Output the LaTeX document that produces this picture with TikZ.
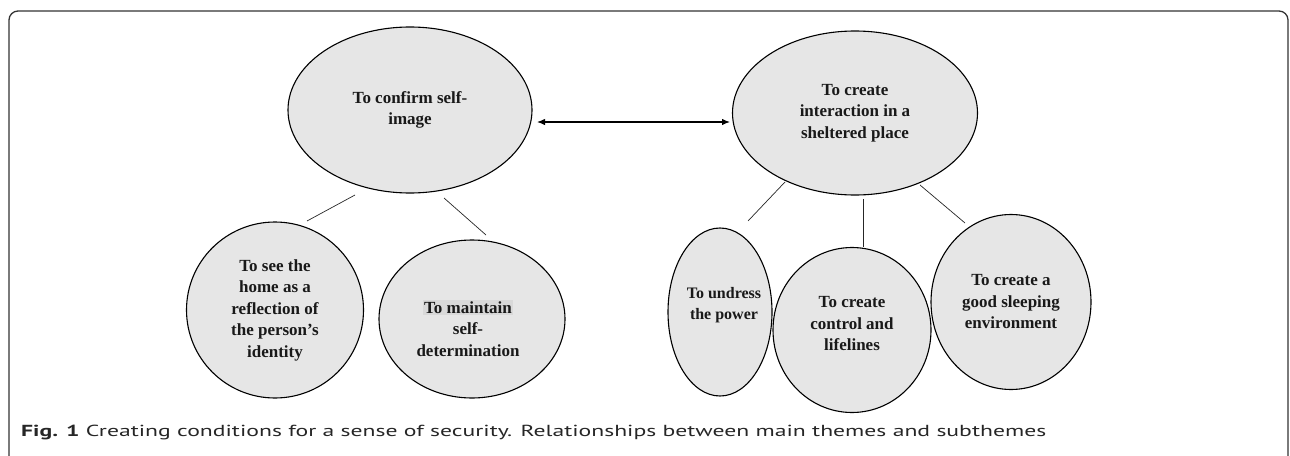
\documentclass[tikz,border=0pt]{standalone}
\usepackage{fontspec}
\usepackage{graphicx}
\setmainfont{Liberation Serif}
\newfontfamily\capfont{PT Sans}
\usetikzlibrary{shapes.geometric,calc,arrows.meta}
\definecolor{bubblefill}{HTML}{E6E6E6}
\definecolor{hlgray}{HTML}{D9D9D9}
\begin{document}
\begin{tikzpicture}[x=1pt,y=-1pt,
  bubble/.style={ellipse,draw=black,line width=1.1pt,fill=bubblefill,inner sep=0pt},
  lbl/.style={font=\fontsize{17}{21.5}\selectfont\bfseries,align=center,inner sep=0pt,text=black!90},
  link/.style={line width=0.7pt,draw=black!85}]
\useasboundingbox (0,0) rectangle (1290,455);
\begin{scope}
\clip (0,0) rectangle (1290,455);
\draw[line width=1.3pt,draw=black!80,rounded corners=9pt] (9,11) rectangle (1288,480);
\end{scope}
% main themes
\node[bubble,minimum width=244pt,minimum height=166pt] (e1) at (410,110) {};
\node[lbl] (t1) at (e1.center) {To confirm self-\\image};
\node[bubble,minimum width=245pt,minimum height=164pt] (e2) at (855,113) {};
\node[lbl] (t2) at (e2.center) {To create\\interaction in a\\sheltered place};
% subthemes
\node[bubble,minimum width=177pt,minimum height=176pt] (cA) at (275,310) {};
\node[lbl] (tA) at (cA.center) {To see the\\home as a\\reflection of\\the person’s\\identity};
\node[bubble,minimum width=186pt,minimum height=158pt] (cB) at (472,319) {};
\node[lbl] (tB) at ($(cB.center)+(-4,9)$) {{\setlength\fboxsep{1.5pt}\colorbox{hlgray}{To maintain}}\\self-\\determination};
\node[bubble,minimum width=104pt,minimum height=168pt] (cC) at (720,312) {};
\node[lbl,font=\fontsize{16}{21.5}\selectfont\bfseries] (tC) at ($(cC.center)+(4,-7)$) {To undress\\the power};
\node[bubble,minimum width=158pt,minimum height=165pt] (cD) at (852,330) {};
\node[lbl] (tD) at ($(cD.center)+(0,-6)$) {To create\\control and\\lifelines};
\node[bubble,minimum width=160pt,minimum height=175pt] (cE) at (1011,302) {};
\node[lbl] (tE) at (cE.center) {To create a\\good sleeping\\environment};
% arrow between main themes
\draw[line width=1.2pt,{Latex[length=8pt,width=6.5pt]}-{Latex[length=8pt,width=6.5pt]}]
  ($(e1.center)+(127,12)$) -- ($(e2.center)+(-125,9)$);
% links
\draw[link] ($(e1.center)+(-55,85)$) -- ($(cA.center)+(32,-89)$);
\draw[link] ($(e1.center)+(34,88)$) -- ($(cB.center)+(14,-84)$);
\draw[link] ($(e2.center)+(-70,69)$) -- ($(cC.center)+(28,-91)$);
\draw[link] ($(e2.center)+(8,86)$) -- ($(cD.center)+(11,-83)$);
\draw[link] ($(e2.center)+(65,72)$) -- ($(cE.center)+(-46,-79)$);
% caption
\node[anchor=west,inner sep=0pt,text=black!85] (cap) at (21,432)
  {\resizebox{1025pt}{\height}{\capfont\fontsize{16}{19}\selectfont\textbf{Fig. 1} Creating conditions for a sense of security. Relationships between main themes and subthemes}};
\end{tikzpicture}
\end{document}
